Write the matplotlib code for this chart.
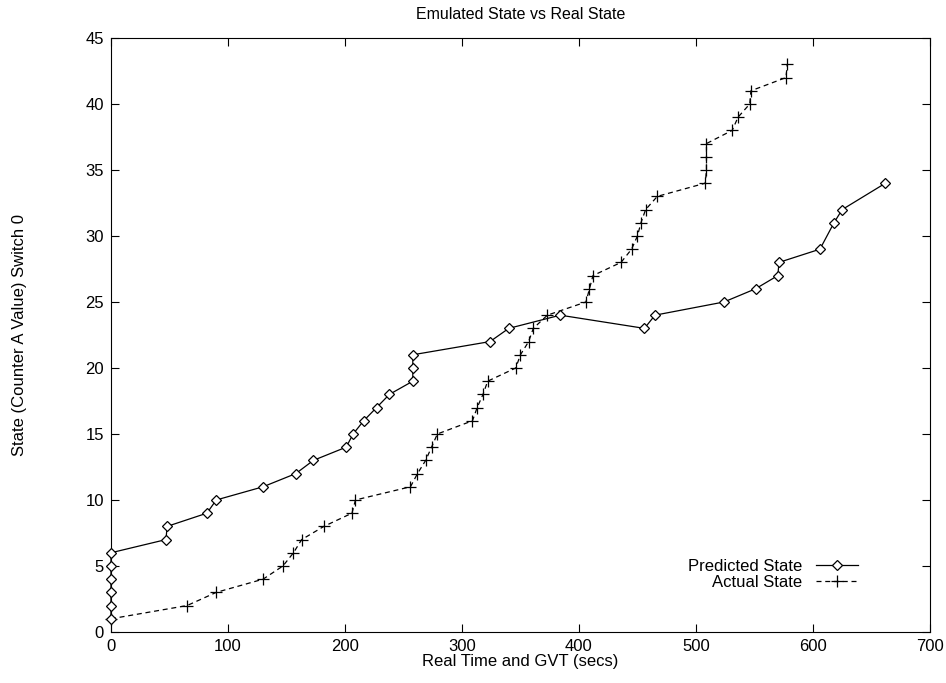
import matplotlib
matplotlib.use("Agg")
import matplotlib.pyplot as plt

plt.rcParams['font.family'] = ['Liberation Sans', 'DejaVu Sans']

# Predicted (emulated) state
pred_x = [0, 0, 0, 0, 0, 0, 47, 48, 82, 90, 130, 158, 173, 201, 207, 216, 227, 238,
          258, 258, 258, 324, 340, 384, 456, 465, 524, 551, 570, 571, 606, 618, 625, 662]
pred_y = [1, 2, 3, 4, 5, 6, 7, 8, 9, 10, 11, 12, 13, 14, 15, 16, 17, 18,
          19, 20, 21, 22, 23, 24, 23, 24, 25, 26, 27, 28, 29, 31, 32, 34]

# Actual (real) state
act_x = [0, 65, 90, 130, 147, 156, 163, 182, 206, 209, 256, 262, 269, 274, 279, 309,
         313, 318, 322, 346, 350, 357, 361, 373, 406, 409, 412, 436, 445, 450, 453, 457,
         467, 508, 509, 509, 509, 531, 536, 546, 547, 577, 578]
act_y = [1, 2, 3, 4, 5, 6, 7, 8, 9, 10, 11, 12, 13, 14, 15, 16,
         17, 18, 19, 20, 21, 22, 23, 24, 25, 26, 27, 28, 29, 30, 31, 32,
         33, 34, 35, 36, 37, 38, 39, 40, 41, 42, 43]

fig = plt.figure(figsize=(9.46, 6.83), dpi=100)
ax = fig.add_axes([0.1173, 0.0747, 0.8657, 0.8697])

ax.plot(pred_x, pred_y, color='black', lw=0.9, marker='D', markersize=5,
        markerfacecolor='white', markeredgecolor='black', markeredgewidth=0.9,
        label='Predicted State', clip_on=False, zorder=3)
ax.plot(act_x, act_y, color='black', lw=0.9, linestyle=(0, (4, 3)), marker='+',
        markersize=8, markeredgewidth=0.9, label='Actual State', clip_on=False)

ax.set_xlim(0, 700)
ax.set_ylim(0, 45)
ax.set_xticks(range(0, 701, 100))
ax.set_yticks(range(0, 46, 5))
ax.tick_params(direction='in', top=True, right=True, length=6, labelsize=12, pad=5)

ax.set_title('Emulated State vs Real State', fontsize=11.5, pad=14)
ax.set_xlabel('Real Time and GVT (secs)', fontsize=12, labelpad=0)
ax.set_ylabel('State (Counter A Value) Switch 0', fontsize=12, labelpad=42)

ax.legend(loc='lower right', bbox_to_anchor=(0.93, 0.045), frameon=False,
          markerfirst=False, fontsize=12, handlelength=2.5, labelspacing=0.1)

fig.savefig('out.png', dpi=100)
